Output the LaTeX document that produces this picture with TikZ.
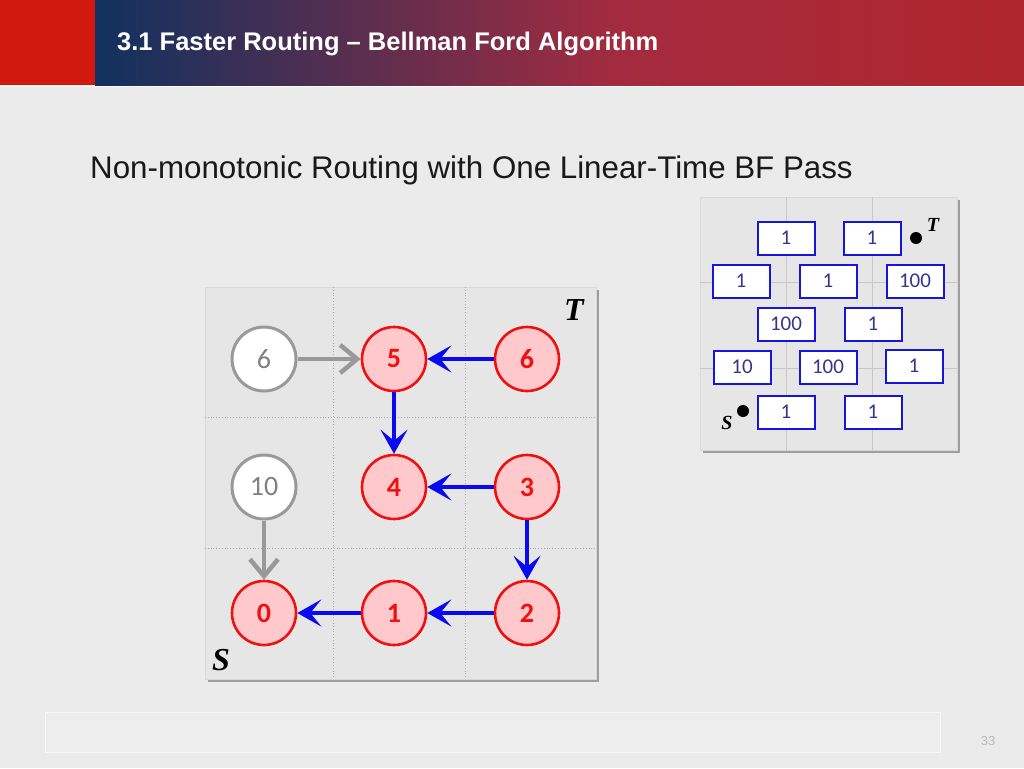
\documentclass[tikz,border=0pt]{standalone}
\usepackage{fontspec}
\setmainfont{Carlito}
\newfontfamily\hdfont{Liberation Sans}
\newfontfamily\stfont{Liberation Serif}
\usetikzlibrary{arrows.meta}
\definecolor{bgc}{HTML}{EBEBEB}
\definecolor{navyc}{HTML}{10315F}
\definecolor{midc}{HTML}{A42B3F}
\definecolor{redhd}{HTML}{B0262C}
\definecolor{redblk}{HTML}{D2190F}
\definecolor{nodered}{HTML}{F01010}
\definecolor{nodefill}{HTML}{FFC9CB}
\definecolor{arrblue}{HTML}{0A0AF0}
\definecolor{greyc}{HTML}{999999}
\definecolor{boxblue}{HTML}{1515E0}
\definecolor{boxtext}{HTML}{35358A}
\tikzset{
  x=1pt, y=-1pt,
  rednode/.style={circle, draw=nodered, fill=nodefill, line width=2.6pt, minimum size=64pt, inner sep=0pt,
     text=nodered, font=\fontsize{28}{28}\selectfont\bfseries},
  greynode/.style={circle, draw=greyc, fill=white, line width=3pt, minimum size=64pt, inner sep=0pt,
     text=black!50, font=\fontsize{28}{28}\selectfont},
  bluearr/.style={draw=arrblue, line width=4.5pt, -{Stealth[length=24pt,width=27pt,inset=11pt]}},
  greyarr/.style={draw=greyc, line width=4.5pt, -{Straight Barb[length=17pt,width=28pt]}},
  wbox/.style={draw=boxblue, fill=white, line width=2pt, minimum width=57pt, minimum height=33pt, inner sep=0pt,
     text=boxtext, font=\fontsize{21}{21}\selectfont},
  gridline/.style={draw=greyc!80, line width=0.8pt, dotted},
  smallgrid/.style={draw=black!22, line width=0.8pt},
  stlabel/.style={font=\stfont\fontsize{32}{32}\selectfont\bfseries\itshape, inner sep=0pt},
  stsmall/.style={font=\stfont\fontsize{20}{20}\selectfont\bfseries\itshape, inner sep=0pt},
}
\begin{document}
\begin{tikzpicture}
\useasboundingbox (0,0) rectangle (1024,768);
\fill[bgc] (0,0) rectangle (1024,768);
% header
\fill[redblk] (0,0) rectangle (95,85);
\shade[left color=navyc, right color=midc] (95,0) rectangle (620,85);
\shade[left color=midc, right color=redhd] (619.5,0) rectangle (1024,85);
\draw[white!80!bgc, line width=1pt] (0,86) -- (1024,86);
\node[anchor=base west, inner sep=0pt, text=white, font=\hdfont\fontsize{25.5}{25.5}\selectfont\bfseries] (title) at (117,50) {3.1 Faster Routing – Bellman Ford Algorithm};
% subtitle
\node[anchor=base west, inner sep=0pt, text=black!90, font=\hdfont\fontsize{31.3}{31.3}\selectfont] (sub) at (90,178) {Non-monotonic Routing with One Linear-Time BF Pass};
% footer
\draw[black!3, fill=white!8!bgc, line width=0.8pt] (45,712) rectangle (940,752);
\node[anchor=base, text=black!28, font=\hdfont\fontsize{13}{13}\selectfont] (pg) at (988,745) {33};

% main grid
\fill[black!38] (208,290) rectangle (599,682);
\draw[black!15, fill=black!2!bgc, line width=0.8pt] (205,287) rectangle (596,679);
\draw[gridline] (333,287) -- (333,679);
\draw[gridline] (465,287) -- (465,679);
\draw[gridline] (205,417) -- (596,417);
\draw[gridline] (205,548) -- (596,548);
\node[stlabel] (T) at (574,310) {T};
\node[stlabel] (S) at (221,660) {S};

\node[greynode] (g6) at (264,359) {6};
\node[rednode] (n5) at (394,359) {5};
\node[rednode] (n6) at (527,359) {6};
\node[greynode] (g10) at (264,487) {10};
\node[rednode] (n4) at (394,487) {4};
\node[rednode] (n3) at (527,487) {3};
\node[rednode] (n0) at (264,613) {0};
\node[rednode] (n1) at (394,613) {1};
\node[rednode] (n2) at (527,613) {2};

\draw[greyarr] (g6) -- (n5);
\draw[greyarr] (g10) -- (n0);
\draw[bluearr] (n6) -- (n5);
\draw[bluearr] (n5) -- (n4);
\draw[bluearr] (n3) -- (n4);
\draw[bluearr] (n3) -- (n2);
\draw[bluearr] (n2) -- (n1);
\draw[bluearr] (n1) -- (n0);

% small diagram
\fill[black!38] (703,200) rectangle (960,453);
\draw[black!15, fill=black!2!bgc, line width=0.8pt] (700,197) rectangle (957,450);
\draw[smallgrid] (786,197) -- (786,450);
\draw[smallgrid] (872,197) -- (872,450);
\draw[smallgrid] (700,282) -- (957,282);
\draw[smallgrid] (700,368) -- (957,368);

\node[wbox] (b11) at (786,238) {1};
\node[wbox] (b12) at (872,238) {1};
\node[wbox] (b21) at (741,281) {1};
\node[wbox] (b22) at (828,281) {1};
\node[wbox] (b23) at (915,281) {100};
\node[wbox] (b31) at (786,324) {100};
\node[wbox] (b32) at (873,324) {1};
\node[wbox] (b41) at (742,367) {10};
\node[wbox] (b42) at (828,367) {100};
\node[wbox] (b43) at (914,366) {1};
\node[wbox] (b51) at (786,412) {1};
\node[wbox] (b52) at (873,412) {1};

\fill[black] (916,238) circle (6pt);
\coordinate (tdot) at (916,238);
\node[stsmall] (st) at (933,225) {T};
\fill[black] (743,411) circle (6pt);
\coordinate (sdot) at (743,411);
\node[stsmall] (ss) at (727,423) {S};
\end{tikzpicture}
\end{document}
